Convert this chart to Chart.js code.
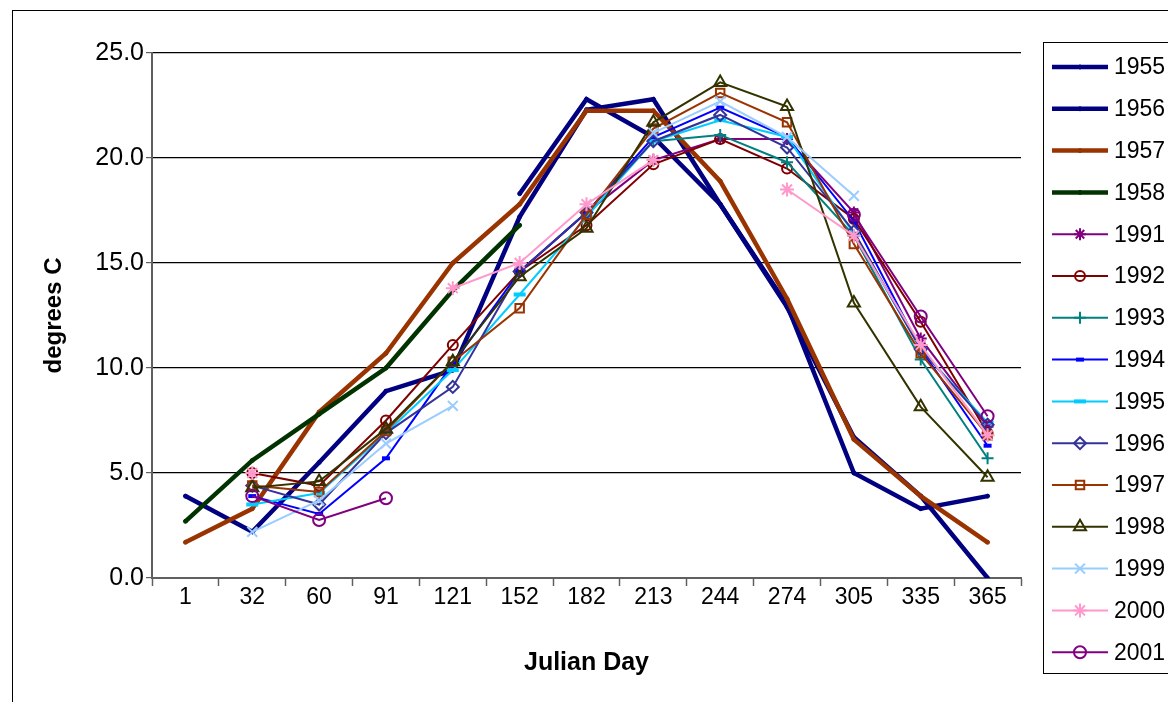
<!DOCTYPE html>
<html>
<head>
<meta charset="utf-8">
<script src="https://cdn.jsdelivr.net/npm/chart.js@4.4.1/dist/chart.umd.min.js"></script>
<style>
  html, body { margin: 0; padding: 0; background: #fff; }
  #wrap { position: relative; width: 1168px; height: 702px; }
</style>
</head>
<body>
<div id="wrap"><canvas id="chart" width="1168" height="702"></canvas></div>
<script>
// Julian day categories
var days = ['1', '32', '60', '91', '121', '152', '182', '213', '244', '274', '305', '335', '365'];
var yTicks = [0, 5, 10, 15, 20, 25];

// water temperature, degrees C (null = no reading)
var t1955 = [3.9, 2.2, 5.5, 8.9, 9.9, 17.2, 22.3, 22.8, 17.8, 13.0, 5.0, 3.3, 3.9];
var t1956 = [null, null, null, null, null, 18.3, 22.8, 21.0, 17.8, 12.9, 6.7, 3.9, 0.0];
var t1957 = [1.7, 3.3, 7.9, 10.7, 15.0, 17.8, 22.25, 22.25, 18.9, 13.3, 6.6, 3.9, 1.7];
var t1958 = [2.7, 5.6, 7.8, 10.0, 13.7, 16.8, null, null, null, null, null, null, null];
var t1991 = [null, null, null, null, null, 14.6, 17.4, 19.9, 20.9, 20.9, 17.4, 11.4, 7.2];
var t1992 = [null, 5.0, 4.4, 7.5, 11.1, 14.6, 16.8, 19.7, 20.9, 19.5, 17.1, 12.2, 6.9];
var t1993 = [null, null, null, null, null, null, null, 20.8, 21.1, 19.8, 16.3, 10.4, 5.7];
var t1994 = [null, 3.9, 3.05, 5.7, 10.2, 14.6, 17.4, 21.0, 22.4, 21.0, 17.0, 10.9, 6.3];
var t1995 = [null, 3.5, 4.05, 6.9, 9.9, 13.5, 17.2, 20.8, 21.8, 21.0, 16.4, 10.9, 7.4];
var t1996 = [null, 4.4, 3.5, 6.9, 9.1, 14.6, 17.4, 20.8, 22.05, 20.5, 16.5, 10.9, 7.3];
var t1997 = [null, 4.4, 4.1, 7.0, 10.3, 12.85, 17.3, 21.4, 23.1, 21.7, 15.9, 10.7, 6.8];
var t1998 = [null, 4.3, 4.6, 7.1, 10.3, 14.35, 16.65, 21.7, 23.6, 22.45, 13.1, 8.15, 4.8];
var t1999 = [null, 2.2, 3.7, 6.4, 8.2, null, null, 21.2, 22.7, 21.0, 18.2, null, null];
var t2000 = [null, 5.0, null, null, 13.8, 15.0, 17.8, 19.9, null, 18.5, 16.3, 11.1, 6.8];
var t2001 = [null, 3.9, 2.76, 3.8, null, null, null, null, null, null, 17.3, 12.45, 7.7];

var FONT = '"Liberation Sans", Arial, sans-serif';

function series(label, data, color, style) {
    var thick = style.thick;
    return {
        label: label,
        data: data,
        borderColor: color,
        backgroundColor: color,
        borderWidth: thick ? 4.5 : 2,
        pointStyle: style.point || 'circle',
        pointRadius: style.r || 2,
        pointBorderWidth: style.pw || 2,
        pointBorderColor: color,
        pointBackgroundColor: style.fill ? color : 'rgba(0,0,0,0)',
        pointHoverRadius: style.r || 2,
        fill: false,
        tension: 0,
        spanGaps: false
    };
}

var datasets = [
    series('1955', t1955, '#000080', {thick: true, r: 2, fill: true, pw: 1}),
    series('1956', t1956, '#000080', {thick: true, r: 2, fill: true, pw: 1}),
    series('1957', t1957, '#993300', {thick: true, r: 2, fill: true, pw: 1}),
    series('1958', t1958, '#003300', {thick: true, r: 2, fill: true, pw: 1}),
    series('1991', t1991, '#800080', {point: 'star', r: 6, pw: 2}),
    series('1992', t1992, '#800000', {point: 'circle', r: 5, pw: 2}),
    series('1993', t1993, '#008080', {point: 'cross', r: 6, pw: 2}),
    series('1994', t1994, '#0000FF', {point: 'line', r: 4, pw: 4}),
    series('1995', t1995, '#00CCFF', {point: 'line', r: 6, pw: 4}),
    series('1996', t1996, '#333399', {point: 'rectRot', r: 6, pw: 2}),
    series('1997', t1997, '#993300', {point: 'rect', r: 6, pw: 2}),
    series('1998', t1998, '#333300', {point: 'triangle', r: 7, pw: 2}),
    series('1999', t1999, '#99CCFF', {point: 'crossRot', r: 7, pw: 2}),
    series('2000', t2000, '#FF99CC', {point: 'star', r: 7, pw: 2}),
    series('2001', t2001, '#800080', {point: 'circle', r: 6, pw: 2})
];
// later series are painted on top, like the original
datasets.forEach(function (d, i) { d.order = -i; });

var framePlugin = {
    id: 'frame',
    beforeDraw: function (chart) {
        var ctx = chart.ctx;
        ctx.save();
        ctx.fillStyle = '#fff';
        ctx.fillRect(0, 0, chart.width, chart.height);
        ctx.strokeStyle = '#000';
        ctx.lineWidth = 1;
        ctx.strokeRect(12.5, 10.5, 1200, 800);
        ctx.restore();
    }
};

var legendPlugin = {
    id: 'boxLegend',
    afterDraw: function (chart) {
        var ctx = chart.ctx;
        var x0 = 1043, y0 = 42, y1 = 673;
        ctx.save();
        ctx.fillStyle = '#fff';
        ctx.fillRect(x0, y0, 200, y1 - y0);
        ctx.strokeStyle = '#000';
        ctx.lineWidth = 1;
        ctx.strokeRect(x0 + 0.5, y0 + 0.5, 300, y1 - y0);
        var step = 41.8;
        chart.data.datasets.forEach(function (d, i) {
            var y = 67 + i * step;
            ctx.strokeStyle = d.borderColor;
            ctx.lineWidth = d.borderWidth;
            ctx.beginPath();
            ctx.moveTo(1052, y);
            ctx.lineTo(1108, y);
            ctx.stroke();
            ctx.lineWidth = d.pointBorderWidth;
            ctx.fillStyle = d.pointBackgroundColor;
            Chart.helpers.drawPoint(ctx, {
                pointStyle: d.pointStyle,
                radius: d.pointRadius,
                rotation: 0,
                borderWidth: d.pointBorderWidth
            }, 1080, y);
            ctx.fillStyle = '#000';
            ctx.font = '23px ' + FONT;
            ctx.textBaseline = 'middle';
            ctx.textAlign = 'left';
            ctx.fillText(d.label, 1114, y + 1);
        });
        ctx.restore();
    }
};

var ctx = document.getElementById('chart').getContext('2d');
var chart = new Chart(ctx, {
    type: 'line',
    data: { labels: days, datasets: datasets },
    options: {
        responsive: false,
        animation: false,
        events: [],
        layout: { padding: { left: 0, top: 53, right: 147, bottom: 0 } },
        plugins: { legend: { display: false }, tooltip: { enabled: false } },
        scales: {
            x: {
                offset: true,
                afterFit: function (s) { s.height = 124; },
                grid: { display: true, drawOnChartArea: false, offset: true, tickLength: 8, tickColor: '#606060', tickWidth: 1.5 },
                border: { color: '#606060', width: 2 },
                ticks: { color: '#000', padding: -2, font: { family: FONT, size: 23 }, maxRotation: 0 },
                title: { display: true, text: 'Julian Day', color: '#000', font: { family: FONT, size: 25, weight: 'bold' }, padding: { top: 0, bottom: 24 } }
            },
            y: {
                min: 0,
                max: 25,
                afterFit: function (s) { s.width = 152; },
                afterBuildTicks: function (s) { s.ticks = yTicks.map(function (v) { return { value: v }; }); },
                grid: { color: '#000', lineWidth: 1.2, tickLength: 6, tickColor: '#606060' },
                border: { color: '#606060', width: 2 },
                ticks: { color: '#000', padding: 2, font: { family: FONT, size: 25 },
                         callback: function (v) { return Number(v).toFixed(1); } },
                title: { display: true, text: 'degrees C', color: '#000', font: { family: FONT, size: 24, weight: 'bold' }, padding: { top: 40, bottom: 0 } }
            }
        }
    },
    plugins: [framePlugin, legendPlugin]
});
</script>
</body>
</html>
